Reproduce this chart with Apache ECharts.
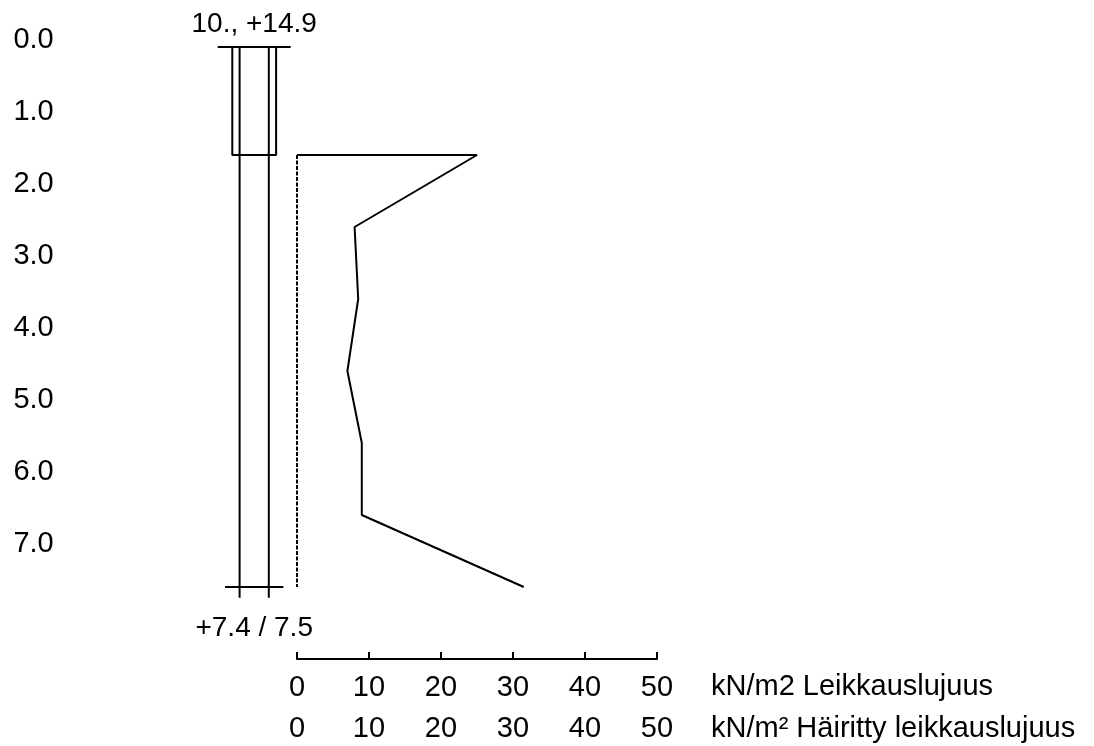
<!DOCTYPE html>
<html>
<head>
<meta charset="utf-8">
<style>
  html, body { margin: 0; padding: 0; background: #fff; }
  #chart { width: 1094px; height: 746px; }
</style>
<script src="https://cdn.jsdelivr.net/npm/echarts@6/dist/echarts.min.js"></script>
</head>
<body>
<div id="chart"></div>
<script>
// syvyys (m) ja siipikairauksen leikkauslujuus (kN/m2)
var depthMax = 8.6;
var shearDepth = [1.6, 1.6, 2.6, 3.6, 4.6, 5.6, 6.6, 7.6];
var shearValue = [0, 25, 8, 8.5, 7, 9, 9, 31.5];
var disturbedDepth = [1.6, 7.6];
var disturbedValue = [0, 0];
var strengthTicks = [0, 10, 20, 30, 40, 50];

// kairausreiän symboli
var boreTop = 0.1;
var casingBottom = 1.6;
var boreBottom = 7.6;
var boreEnd = 7.75;
var topLabel = '10., +14.9';
var bottomLabel = '+7.4 / 7.5';
var unit1 = 'kN/m2 Leikkauslujuus';
var unit2 = 'kN/m² Häiritty leikkauslujuus';

var fontFam = '"Liberation Sans", Arial, sans-serif';
var fs = 29;

// symbolin viivat (x = suhteellinen leveys, y = syvyys)
var boreSegments = [
    [[-1, boreTop], [1, boreTop]],
    [[-0.6, boreTop], [-0.6, casingBottom], [0.6, casingBottom], [0.6, boreTop]],
    [[-0.4, boreTop], [-0.4, boreEnd]],
    [[0.4, boreTop], [0.4, boreEnd]],
    [[-0.8, boreBottom], [0.8, boreBottom]]
];

var series = [];
for (var i = 0; i < boreSegments.length; i++) {
    series.push({
        type: 'line',
        xAxisIndex: 0,
        yAxisIndex: 0,
        data: boreSegments[i],
        symbol: 'none',
        silent: true,
        lineStyle: { color: '#000', width: 2 }
    });
}
series.push({
    type: 'scatter',
    xAxisIndex: 0,
    yAxisIndex: 0,
    symbolSize: 0,
    itemStyle: { opacity: 1 },
    data: [[0, boreTop]],
    label: {
        show: true, position: 'top', distance: 9,
        formatter: topLabel, color: '#000', fontSize: 28, fontFamily: fontFam
    }
});
series.push({
    type: 'scatter',
    xAxisIndex: 0,
    yAxisIndex: 0,
    symbolSize: 0,
    itemStyle: { opacity: 1 },
    data: [[0, boreBottom]],
    label: {
        show: true, position: 'bottom', distance: 27,
        formatter: bottomLabel, color: '#000', fontSize: 28, fontFamily: fontFam
    }
});

var shearData = [];
for (var j = 0; j < shearDepth.length; j++) {
    shearData.push([shearValue[j], shearDepth[j]]);
}
var disturbedData = [];
for (var k = 0; k < disturbedDepth.length; k++) {
    disturbedData.push([disturbedValue[k], disturbedDepth[k]]);
}
series.push({
    name: unit1,
    type: 'line',
    xAxisIndex: 1,
    yAxisIndex: 1,
    data: shearData,
    symbol: 'none',
    lineStyle: { color: '#000', width: 2 }
});
series.push({
    name: unit2,
    type: 'line',
    xAxisIndex: 1,
    yAxisIndex: 1,
    data: disturbedData,
    symbol: 'none',
    lineStyle: { color: '#000', width: 2, type: [4, 1.5] }
});

var myCharts = echarts.init(document.getElementById('chart'));
var option = {
    animation: false,
    backgroundColor: '#fff',
    textStyle: { fontFamily: fontFam },
    grid: [
        { left: 217.7, width: 73, top: 39.8, height: depthMax * 72, outerBoundsMode: 'none', containLabel: false },
        { left: 297, width: 360, top: 39.8, height: depthMax * 72, outerBoundsMode: 'none', containLabel: false }
    ],
    xAxis: [{
        gridIndex: 0,
        type: 'value',
        min: -1,
        max: 1,
        show: false
    }, {
        gridIndex: 1,
        type: 'value',
        min: 0,
        max: 50,
        interval: 10,
        position: 'bottom',
        axisLine: { show: true, onZero: false, lineStyle: { color: '#000', width: 2 } },
        axisTick: { show: true, inside: true, length: 7, lineStyle: { color: '#000', width: 2 } },
        splitLine: { show: false },
        axisLabel: { margin: 14, color: '#000', fontSize: fs, fontFamily: fontFam },
        name: unit1,
        nameLocation: 'end',
        nameGap: 54,
        nameTextStyle: {
            color: '#000', fontSize: fs, fontFamily: fontFam,
            align: 'left', verticalAlign: 'top', lineHeight: 56
        }
    }, {
        gridIndex: 1,
        type: 'value',
        min: 0,
        max: 50,
        interval: 10,
        position: 'bottom',
        axisLine: { show: false, onZero: false },
        axisTick: { show: false },
        splitLine: { show: false },
        axisLabel: {
            margin: 55, color: '#000', fontSize: fs, fontFamily: fontFam,
            customValues: strengthTicks
        },
        name: unit2,
        nameLocation: 'end',
        nameGap: 54,
        nameTextStyle: {
            color: '#000', fontSize: fs, fontFamily: fontFam,
            align: 'left', verticalAlign: 'top', lineHeight: 139
        }
    }],
    yAxis: [{
        gridIndex: 0,
        type: 'value',
        inverse: true,
        min: 0,
        max: depthMax,
        interval: 1,
        position: 'left',
        axisLine: { show: false },
        axisTick: { show: false },
        splitLine: { show: false },
        axisLabel: {
            margin: 164,
            color: '#000',
            fontSize: fs,
            fontFamily: fontFam,
            showMaxLabel: false,
            formatter: function (v) { return v <= 7 ? v.toFixed(1) : ''; }
        }
    }, {
        gridIndex: 1,
        type: 'value',
        inverse: true,
        min: 0,
        max: depthMax,
        show: false
    }],
    series: series
};
myCharts.setOption(option);
</script>
</body>
</html>
